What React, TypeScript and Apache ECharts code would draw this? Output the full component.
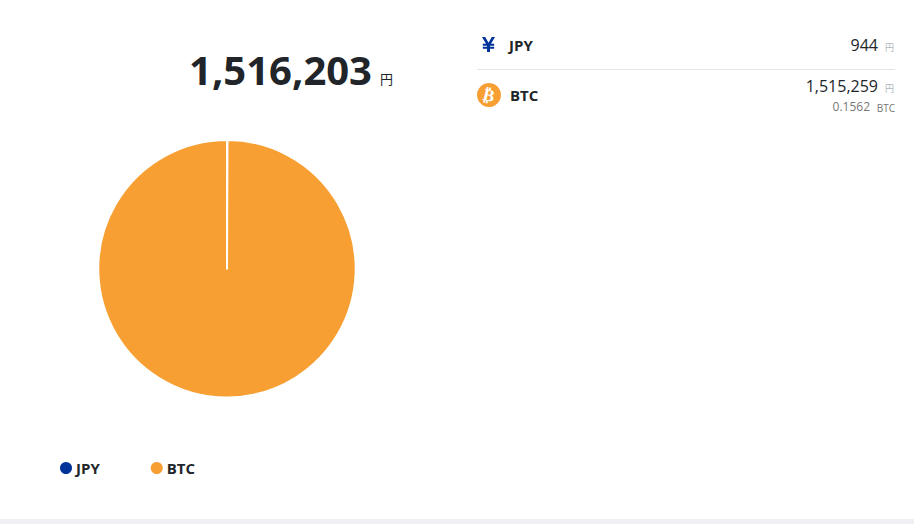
import React, { useEffect, useRef } from "react";
import * as echarts from "echarts";

const categories = ["JPY", "BTC"];
const values = [944, 1515259];
const colors = ["#003399", "#F79F32"];
const totalLabel = "1,516,203";
const jpyLabel = "944";
const btcLabel = "1,515,259";
const btcAmount = "0.1562";
const FONT = "'Open Sans', sans-serif";
const CJK = "'Noto Sans CJK JP', sans-serif";

echarts.graphic.registerShape(
  "yenIcon",
  echarts.graphic.extendPath(
    "M0 0 h3.2 l3.3 5.8 l3.3 -5.8 h3.2 l-4 6.8 h3.2 v2 h-4.2 v1 h4.2 v2 h-4.2 v3.2 h-3 v-3.2 h-4.2 v-2 h4.2 v-1 h-4.2 v-2 h3.2 z",
    {}
  )
);

const txt = (text: string, x: number, y: number, fontSize: number, fill: string, align = "left", fontWeight: any = 400, fontFamily = FONT) => ({
  type: "text", x, y,
  style: { text, fontSize, fill, fontWeight, fontFamily, textAlign: align, textVerticalAlign: "middle" },
});

export default function App() {
  const ref = useRef<HTMLDivElement>(null);
  useEffect(() => {
    const chart = echarts.init(ref.current!, null, { renderer: "svg" });
    chart.setOption({
      animation: false,
      backgroundColor: "#ffffff",
      legend: {
        left: 53, top: 455, icon: "circle", itemWidth: 14, itemHeight: 14, itemGap: 49,
        selectedMode: false,
        data: categories,
        textStyle: { fontFamily: FONT, fontSize: 15, fontWeight: 700, color: "#212529", padding: [0, 0, 0, -2] },
      },
      series: [{
        type: "pie", center: [227, 268.7], radius: [0, 128.7], startAngle: 90, clockwise: true,
        label: { show: false }, labelLine: { show: false }, silent: true,
        itemStyle: { borderColor: "#ffffff", borderWidth: 2 },
        data: categories.map((name, i) => ({ name, value: values[i], itemStyle: { color: colors[i] } })),
      }],
      graphic: [
        { type: "rect", shape: { x: 0, y: 519, width: 914, height: 5 }, style: { fill: "#EEF0F5" } },
        txt(totalLabel, 372, 69, 40, "#212529", "right", 700),
        txt("円", 380, 78, 13, "#212529", "left", 400, CJK),
        { type: "yenIcon", x: 482, y: 37, style: { fill: "#003399" } },
        txt("JPY", 509, 45, 15, "#212529", "left", 700),
        txt(jpyLabel, 878, 45, 16, "#212529", "right"),
        txt("円", 885, 47, 9, "#adb5bd", "left", 400, CJK),
        { type: "line", shape: { x1: 477, y1: 69.5, x2: 895, y2: 69.5 }, style: { stroke: "#e3e5e8", lineWidth: 1 } },
        { type: "circle", shape: { cx: 489, cy: 95, r: 12 }, style: { fill: "#F79F32" } },
        { type: "text", x: 489, y: 95, rotation: -0.24, style: { text: "₿", fontSize: 17, fontWeight: 700, fill: "#ffffff", fontFamily: "'DejaVu Sans'", textAlign: "center", textVerticalAlign: "middle" } },
        txt("BTC", 510, 95, 15, "#212529", "left", 700),
        txt(btcLabel, 878, 86, 16, "#212529", "right"),
        txt("円", 885, 88, 9, "#adb5bd", "left", 400, CJK),
        txt(btcAmount, 870, 106.5, 12, "#777777", "right"),
        txt("BTC", 895, 107.5, 10, "#777777", "right"),
      ],
    });
    return () => chart.dispose();
  }, []);
  return <div ref={ref} style={{ position: "fixed", left: 0, top: 0, width: 914, height: 524 }} />;
}
